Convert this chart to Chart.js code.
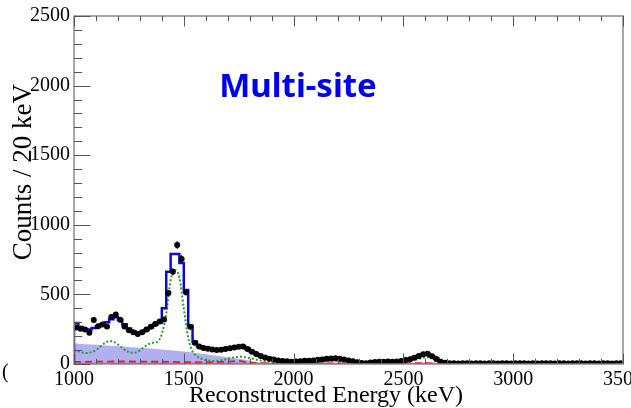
<!DOCTYPE html>
<html>
<head>
<meta charset="utf-8">
<script src="https://cdn.jsdelivr.net/npm/chart.js@4.4.1/dist/chart.umd.min.js"></script>
<style>
  html, body { margin: 0; padding: 0; background: #fff; }
  canvas { display: block; }
</style>
</head>
<body>
<canvas id="spec" width="631" height="408"></canvas>
<script>
// Multi-site energy spectrum, 20 keV bins from 1000 to 3500 keV

const binLow = 1000;
const binWidth = 20;

// black data points (counts per bin)
const counts = [
  262, 254, 247, 225, 316, 272, 284, 270, 338, 355,
  318, 270, 242, 228, 215, 228, 248, 268, 288, 305,
  320, 510, 663, 855, 755, 515, 268, 153, 126, 115,
  110, 104, 100, 103, 108, 113, 118, 124, 125, 108,
  88, 72, 57, 46, 38, 32, 26, 22, 19, 17,
  18, 20, 23, 24, 26, 30, 33, 37, 40, 41,
  38, 32, 25, 19, 12, 7, 6, 10, 14, 16,
  17, 18, 17, 18, 22, 28, 34, 45, 58, 70,
  74, 55, 36, 16, 9, 6, 5, 4, 6, 5,
  4, 5, 6, 4, 5, 5, 4, 6, 5, 4,
  5, 5, 6, 4, 5, 4, 5, 6, 5, 4,
  5, 5, 4, 6, 5, 5, 4, 5, 6, 4,
  5, 5, 4, 5, 5
];
const countErr = [
  16, 16, 16, 15, 18, 16, 17, 16, 18, 19,
  18, 16, 16, 15, 15, 15, 16, 16, 17, 17,
  18, 23, 26, 29, 27, 23, 16, 12, 11, 11,
  10, 10, 10, 10, 10, 11, 11, 11, 11, 10,
  9, 8, 8, 7, 6, 6, 5, 5, 4, 4,
  4, 4, 5, 5, 5, 5, 6, 6, 6, 6,
  6, 6, 5, 4, 3, 3, 2, 3, 4, 4,
  4, 4, 4, 4, 5, 5, 6, 7, 8, 8,
  9, 7, 6, 4, 3, 2, 2, 2, 2, 2,
  2, 2, 2, 2, 2, 2, 2, 2, 2, 2,
  2, 2, 2, 2, 2, 2, 2, 2, 2, 2,
  2, 2, 2, 2, 2, 2, 2, 2, 2, 2,
  2, 2, 2, 2, 2
];

// total fit (blue histogram)
const fitTotal = [
  295, 265, 252, 248, 258, 272, 285, 300, 322, 335,
  318, 285, 255, 235, 222, 228, 245, 262, 282, 298,
  400, 663, 790, 790, 725, 531, 275, 160, 128, 115,
  108, 104, 103, 105, 109, 114, 119, 124, 126, 112,
  90, 72, 58, 47, 38, 31, 26, 22, 19, 18,
  18, 19, 21, 23, 25, 28, 31, 35, 38, 40,
  38, 33, 26, 19, 13, 9, 8, 10, 13, 15,
  16, 17, 17, 18, 21, 27, 34, 45, 58, 70,
  73, 58, 37, 18, 9, 6, 5, 5, 5, 5,
  5, 5, 5, 5, 5, 5, 5, 5, 5, 5,
  5, 5, 5, 5, 5, 5, 5, 5, 5, 5,
  5, 5, 5, 5, 5, 5, 5, 5, 5, 5,
  5, 5, 5, 5, 5
];

// green dotted component
const greenE = [1000, 1020, 1040, 1060, 1080, 1100, 1120, 1140, 1160, 1180,
                1200, 1220, 1240, 1260, 1280, 1300, 1320, 1340, 1360, 1380,
                1400, 1420, 1440, 1460, 1480, 1500, 1520, 1540, 1560, 1580,
                1600, 1640, 1680, 1720, 1760, 1800, 1850, 1900, 1950, 2000,
                2100, 2200, 2300, 2400, 2500, 2550, 2600, 2620, 2650, 2700,
                2800, 3000, 3500];
const greenY = [100, 90, 82, 79, 85, 100, 125, 150, 165, 160,
                140, 115, 92, 80, 82, 98, 122, 142, 152, 160,
                215, 360, 600, 675, 620, 400, 190, 90, 55, 38,
                28, 22, 30, 45, 52, 42, 25, 15, 12, 12,
                15, 22, 8, 10, 18, 30, 48, 50, 30, 6,
                3, 2, 2];

// lavender filled component
const fillE = [1000, 1100, 1200, 1300, 1400, 1500, 1600, 1700, 1800, 1840, 1880, 2000, 2500, 3500];
const fillY = [148, 138, 128, 117, 105, 90, 70, 48, 25, 10, 4, 2, 1, 0];

// red dashed component
const redE = [1000, 1200, 1400, 1600, 1700, 1750, 1800, 1900, 2600, 2700, 3500];
const redY = [15, 18, 16, 12, 16, 22, 10, 4, 6, 1, 0];

// magenta flat component
const flatE = [1000, 3500];
const flatY = [3, 3];

const xTicks = [1000, 1500, 2000, 2500, 3000, 3500];
const yTicks = [0, 500, 1000, 1500, 2000, 2500];
const xMinorStep = 100;
const yMinorStep = 100;

const toXY = (xs, ys) => xs.map((x, i) => ({ x, y: ys[i] }));
const center = i => binLow + binWidth * (i + 0.5);

const pointData = counts.map((c, i) => ({ x: center(i), y: c }));
// left bin edges (stepped 'before' = horizontal then vertical), plus the closing edge
const fitData = fitTotal.map((v, i) => ({ x: binLow + binWidth * i, y: v }));
fitData.unshift({ x: binLow, y: 0 });
fitData.push({ x: binLow + binWidth * fitTotal.length, y: fitTotal[fitTotal.length - 1] });

const rootStyle = {
  id: 'rootStyle',
  afterDatasetsDraw(chart) {
    const ctx = chart.ctx;
    const xs = chart.scales.x, ys = chart.scales.y;
    ctx.save();
    ctx.strokeStyle = '#000';
    ctx.lineWidth = 1;
    ctx.beginPath();
    counts.forEach((c, i) => {
      const px = xs.getPixelForValue(center(i));
      const py = ys.getPixelForValue(c);
      ctx.moveTo(px, ys.getPixelForValue(c - countErr[i]));
      ctx.lineTo(px, ys.getPixelForValue(c + countErr[i]));
      ctx.moveTo(xs.getPixelForValue(center(i) - binWidth / 2), py);
      ctx.lineTo(xs.getPixelForValue(center(i) + binWidth / 2), py);
    });
    ctx.stroke();
    ctx.restore();
  },
  afterDraw(chart) {
    const ctx = chart.ctx;
    const a = chart.chartArea;
    const xs = chart.scales.x, ys = chart.scales.y;
    ctx.save();

    // frame
    ctx.strokeStyle = '#8a8a8a';
    ctx.lineWidth = 1.5;
    ctx.strokeRect(a.left, a.top, a.right - a.left, a.bottom - a.top);

    // inward ticks, top and bottom mirrored
    ctx.strokeStyle = '#555';
    ctx.lineWidth = 1;
    ctx.beginPath();
    for (let v = xs.min; v <= xs.max; v += xMinorStep) {
      const px = Math.round(xs.getPixelForValue(v)) + 0.5;
      const len = v % 500 === 0 ? 10.5 : 5.2;
      ctx.moveTo(px, a.bottom); ctx.lineTo(px, a.bottom - len);
      ctx.moveTo(px, a.top); ctx.lineTo(px, a.top + len);
    }
    for (let v = ys.min; v <= ys.max; v += yMinorStep) {
      const py = Math.round(ys.getPixelForValue(v)) + 0.5;
      const len = v % 500 === 0 ? 16.5 : 8.2;
      ctx.moveTo(a.left, py); ctx.lineTo(a.left + len, py);
    }
    ctx.stroke();

    ctx.fillStyle = '#000';
    ctx.textBaseline = 'alphabetic';

    // x title
    ctx.font = '24px "Liberation Serif"';
    ctx.textAlign = 'center';
    ctx.fillText('Reconstructed Energy (keV)', 326, 402);

    // y title
    ctx.font = '27px "Liberation Serif"';
    ctx.translate(31, 84);
    ctx.rotate(-Math.PI / 2);
    ctx.textAlign = 'right';
    ctx.fillText('Counts / 20 keV', 0, 0);
    ctx.setTransform(1, 0, 0, 1, 0, 0);

    // stray bracket at the left edge
    ctx.font = '20px "Liberation Serif"';
    ctx.textAlign = 'left';
    ctx.fillText('(', 2, 378);

    // panel label
    ctx.fillStyle = '#0000ee';
    ctx.font = 'bold 33px "Noto Sans"';
    ctx.textAlign = 'center';
    ctx.fillText('Multi-site', 298, 97);
    ctx.restore();
  }
};

new Chart(document.getElementById('spec'), {
  type: 'line',
  data: {
    datasets: [
      {
        label: 'Data',
        data: pointData,
        showLine: false,
        pointRadius: 3,
        pointBackgroundColor: '#000',
        pointBorderWidth: 0,
        order: 0
      },
      {
        label: 'Fit',
        data: fitData,
        stepped: 'before',
        borderColor: '#0b0bd0',
        borderWidth: 2.5,
        pointRadius: 0,
        fill: false,
        order: 1
      },
      {
        label: 'Component A',
        data: toXY(greenE, greenY),
        borderColor: '#2f9a2f',
        borderWidth: 2,
        borderDash: [2, 2],
        cubicInterpolationMode: 'monotone',
        pointRadius: 0,
        fill: false,
        order: 2
      },
      {
        label: 'Component B',
        data: toXY(redE, redY),
        borderColor: '#e02020',
        borderWidth: 1.8,
        borderDash: [7, 4],
        tension: 0.3,
        pointRadius: 0,
        fill: false,
        order: 3
      },
      {
        label: 'Component C',
        data: toXY(flatE, flatY),
        borderColor: '#c83cc8',
        borderWidth: 1.5,
        pointRadius: 0,
        fill: false,
        order: 4
      },
      {
        label: 'Component D',
        data: toXY(fillE, fillY),
        borderWidth: 0,
        backgroundColor: '#b0b0f0',
        cubicInterpolationMode: 'monotone',
        pointRadius: 0,
        fill: 'origin',
        order: 5
      }
    ]
  },
  options: {
    responsive: false,
    devicePixelRatio: 1,
    animation: false,
    events: [],
    layout: { padding: { top: 16, right: 8, left: 0, bottom: 0 } },
    plugins: { legend: { display: false }, tooltip: { enabled: false } },
    scales: {
      x: {
        type: 'linear',
        min: 1000,
        max: 3500,
        afterBuildTicks: s => { s.ticks = xTicks.map(v => ({ value: v })); },
        afterFit: s => { s.height = 44; s.paddingLeft = 0; s.paddingRight = 0; },
        grid: { display: false, drawTicks: false },
        border: { display: false },
        ticks: {
          callback: v => String(v),
          color: '#000',
          font: { family: 'Liberation Serif', size: 20 },
          padding: 4,
          maxRotation: 0,
          autoSkip: false
        }
      },
      y: {
        type: 'linear',
        min: 0,
        max: 2500,
        afterBuildTicks: s => { s.ticks = yTicks.map(v => ({ value: v })); },
        afterFit: s => { s.width = 74; s.paddingTop = 0; s.paddingBottom = 0; },
        grid: { display: false, drawTicks: false },
        border: { display: false },
        ticks: {
          callback: v => String(v),
          color: '#000',
          font: { family: 'Liberation Serif', size: 20 },
          padding: 4
        }
      }
    }
  },
  plugins: [rootStyle]
});
</script>
</body>
</html>
